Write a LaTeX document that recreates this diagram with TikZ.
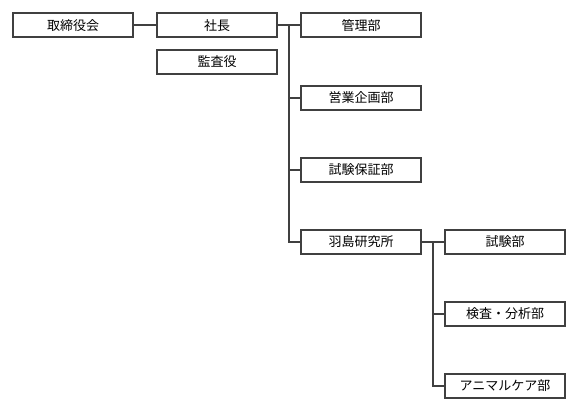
\documentclass[tikz,border=0pt]{standalone}
\usepackage{fontspec}
\setmainfont{Noto Sans CJK JP}
\definecolor{ln}{HTML}{404040}
\begin{document}
\begin{tikzpicture}[x=1pt,y=-1pt,
  box/.style={draw=ln,line width=2pt,fill=white,minimum width=120pt,minimum height=24pt,inner sep=0pt,font=\fontsize{13}{15}\selectfont,text=black},
  conn/.style={draw=ln,line width=2pt}]
\useasboundingbox (0,0) rectangle (580,412);
\node[box] (board) at (73,25.5) {取締役会};
\node[box] (pres) at (217,25.5) {社長};
\node[box] (aud) at (217,62) {監査役};
\node[box] (kanri) at (361,25.5) {管理部};
\node[box] (eigyo) at (361,98) {営業企画部};
\node[box] (hosho) at (361,169.7) {試験保証部};
\node[box] (hashima) at (361,242) {羽島研究所};
\node[box] (shiken) at (505,242) {試験部};
\node[box] (kensa) at (505,313.8) {検査・分析部};
\node[box] (animal) at (505,386) {アニマルケア部};
\coordinate (v1) at (289,0);
\coordinate (v2) at (433,0);
\draw[conn] (board) -- (pres);
\draw[conn] (pres.east) -- (kanri.west);
\draw[conn] (pres.east -| v1) -- (hashima.west -| v1) -- (hashima.west);
\draw[conn] (eigyo.west -| v1) -- (eigyo.west);
\draw[conn] (hosho.west -| v1) -- (hosho.west);
\draw[conn] (hashima.east) -- (shiken.west);
\draw[conn] (shiken.west -| v2) -- (animal.west -| v2) -- (animal.west);
\draw[conn] (kensa.west -| v2) -- (kensa.west);
\end{tikzpicture}
\end{document}
